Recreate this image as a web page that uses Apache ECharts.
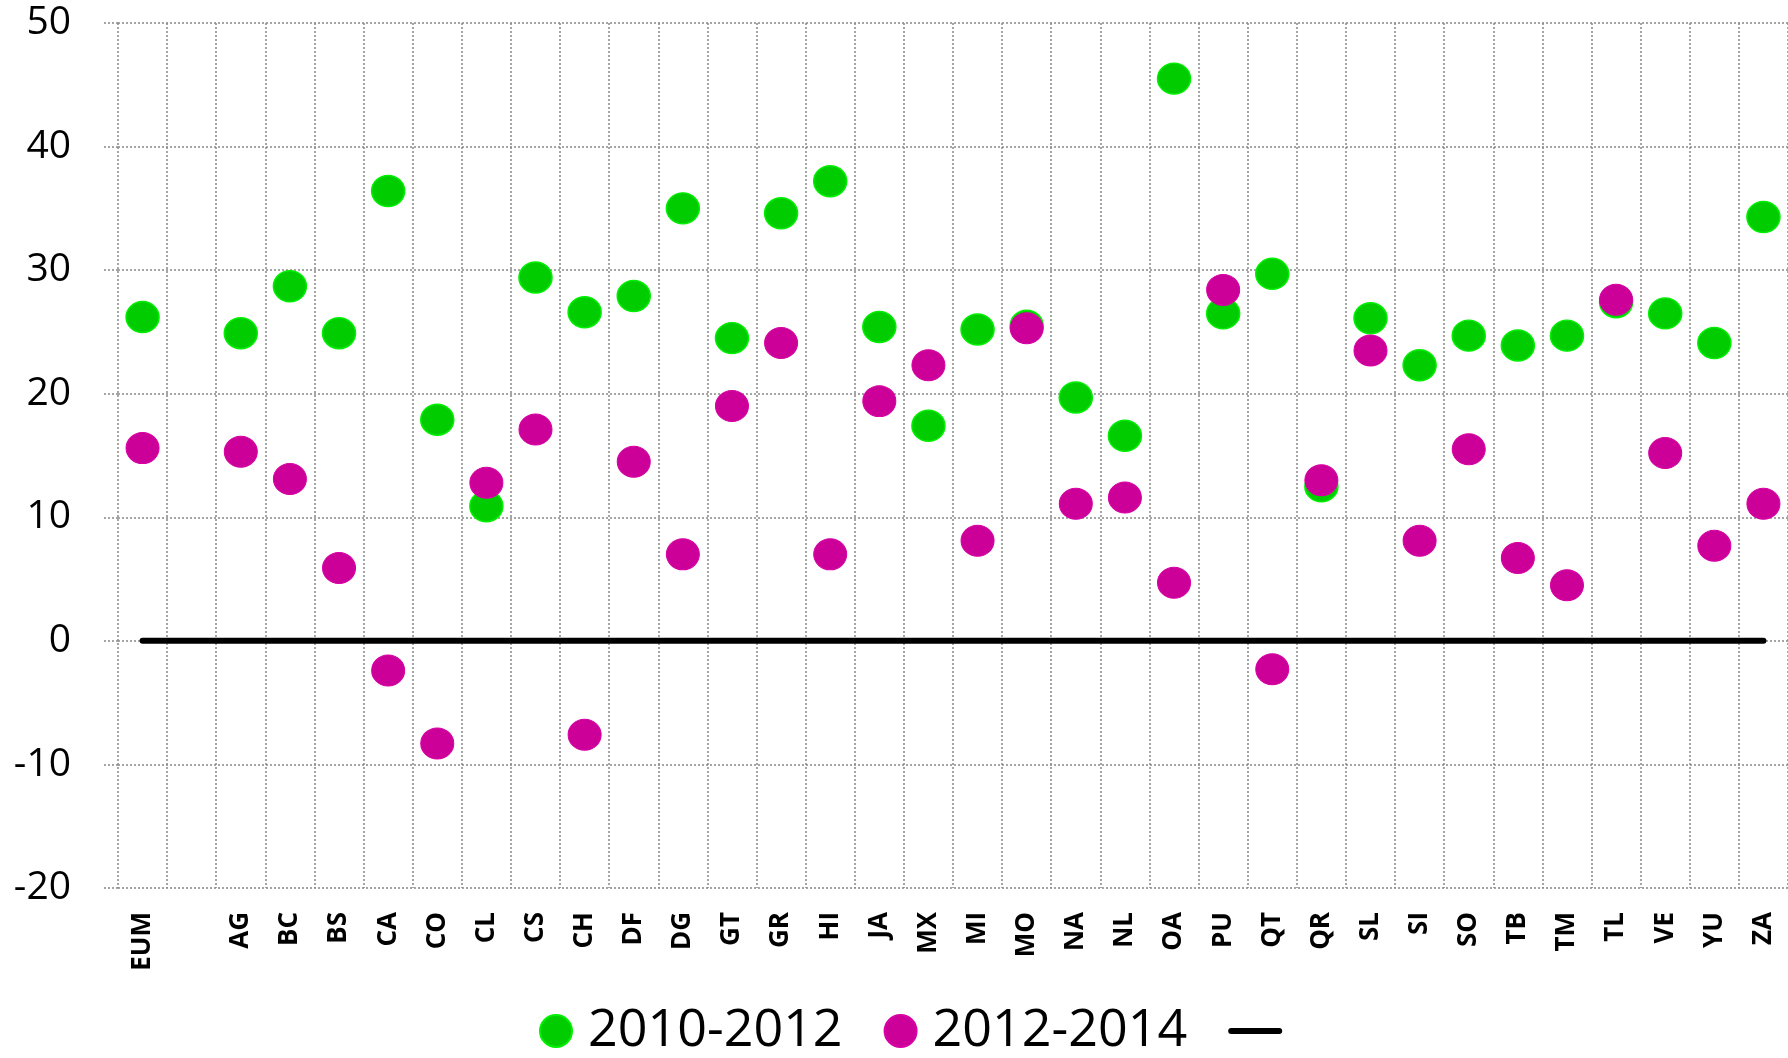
<!DOCTYPE html>
<html>
<head>
    <meta charset="utf-8">
    <script src="https://cdn.jsdelivr.net/npm/echarts@6/dist/echarts.min.js"></script>
    <style>
        html, body { margin: 0; padding: 0; background: #fff; }
    </style>
</head>
<body>
    <div id="chart" style="width: 1788px;height:1058px;"></div>
    <script>
        // states, with an empty slot after the national total
        const categories = ['EUM', '', 'AG', 'BC', 'BS', 'CA', 'CO', 'CL', 'CS', 'CH', 'DF', 'DG', 'GT', 'GR',
            'HI', 'JA', 'MX', 'MI', 'MO', 'NA', 'NL', 'OA', 'PU', 'QT', 'QR', 'SL', 'SI', 'SO', 'TB', 'TM',
            'TL', 'VE', 'YU', 'ZA'];

        const values_2010_2012 = [26.2, '-', 24.9, 28.7, 24.9, 36.4, 17.9, 10.9, 29.4, 26.6, 27.9, 35.0, 24.5, 34.6,
            37.2, 25.4, 17.4, 25.2, 25.5, 19.7, 16.6, 45.5, 26.5, 29.7, 12.5, 26.1, 22.3, 24.7, 23.9, 24.7,
            27.4, 26.5, 24.1, 34.3];

        const values_2012_2014 = [15.6, '-', 15.3, 13.1, 5.9, -2.4, -8.3, 12.8, 17.1, -7.6, 14.5, 7.0, 19.0, 24.1,
            7.0, 19.4, 22.3, 8.1, 25.3, 11.1, 11.6, 4.7, 28.4, -2.3, 13.0, 23.5, 8.1, 15.5, 6.7, 4.5,
            27.6, 15.2, 7.7, 11.1];

        const zero_line = [0, 0, 0, 0, 0, 0, 0, 0, 0, 0, 0, 0, 0, 0, 0, 0, 0, 0, 0, 0, 0, 0, 0, 0, 0, 0, 0, 0, 0, 0,
            0, 0, 0, 0];

        const y_ticks = { min: -20, max: 50, interval: 10 };

        const dotted = { color: '#888', width: 1.5, type: [2, 2] };

        const chart = echarts.init(document.getElementById('chart'));
        const option = {
            animation: false,
            textStyle: { fontFamily: 'Open Sans' },
            grid: { left: 118, right: 0, top: 23, bottom: 170 },
            legend: {
                left: 534,
                top: 1000,
                itemWidth: 54,
                itemHeight: 32,
                itemGap: 41,
                data: [
                    '2010-2012',
                    '2012-2014',
                    // plain black bar for the zero line, no marker
                    { name: 'zero', icon: 'path://M3,0 H51 A3,3 0 0 1 51,6 H3 A3,3 0 0 1 3,0 Z' }
                ],
                formatter: function (name) { return name == 'zero' ? '' : name; },
                textStyle: { fontSize: 52, color: '#000', fontFamily: 'Open Sans' }
            },
            xAxis: {
                type: 'category',
                data: categories,
                boundaryGap: true,
                axisLine: { show: false },
                axisTick: { show: false },
                splitLine: { show: true, interval: 0, lineStyle: dotted },
                axisLabel: {
                    interval: 0,
                    rotate: 90,
                    margin: 24,
                    fontSize: 26,
                    fontWeight: 'bold',
                    color: '#000'
                }
            },
            yAxis: {
                type: 'value',
                min: y_ticks.min,
                max: y_ticks.max,
                interval: y_ticks.interval,
                axisLine: { show: false },
                axisTick: { show: true, length: 15, lineStyle: dotted },
                splitLine: { show: true, lineStyle: dotted },
                axisLabel: { margin: 47, fontSize: 39, color: '#000' }
            },
            series: [
                {
                    name: '2010-2012',
                    type: 'scatter',
                    data: values_2010_2012,
                    symbol: 'circle',
                    symbolSize: [33, 31],
                    itemStyle: { color: '#00cc00', borderColor: '#00f000', borderWidth: 1.5, opacity: 1 },
                    z: 3
                },
                {
                    name: '2012-2014',
                    type: 'scatter',
                    data: values_2012_2014,
                    symbol: 'circle',
                    symbolSize: [33, 31],
                    itemStyle: { color: '#cc0099', borderColor: '#d800a4', borderWidth: 1, opacity: 1 },
                    z: 4
                },
                {
                    name: 'zero',
                    type: 'line',
                    data: zero_line,
                    symbol: 'none',
                    itemStyle: { color: '#000' },
                    lineStyle: { color: '#000', width: 6, cap: 'round' },
                    z: 2
                }
            ]
        };
        chart.setOption(option);
    </script>
</body>
</html>
